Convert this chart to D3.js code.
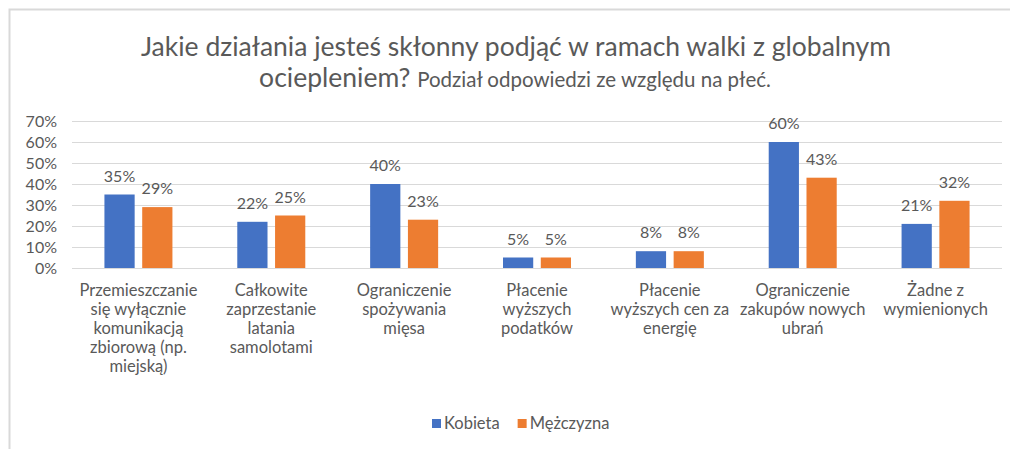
<!DOCTYPE html>
<html>
<head>
<meta charset="utf-8">
<script src="https://cdn.jsdelivr.net/npm/d3@7"></script>
<style>
  html, body { margin: 0; padding: 0; background: #fff; }
  svg text { font-family: Lato, "Open Sans", sans-serif; fill: #595959; }
</style>
</head>
<body>
<div id="chart"></div>
<script>
const categories = [
  ["Przemieszczanie", "się wyłącznie", "komunikacją", "zbiorową (np.", "miejską)"],
  ["Całkowite", "zaprzestanie", "latania", "samolotami"],
  ["Ograniczenie", "spożywania", "mięsa"],
  ["Płacenie", "wyższych", "podatków"],
  ["Płacenie", "wyższych cen za", "energię"],
  ["Ograniczenie", "zakupów nowych", "ubrań"],
  ["Żadne z", "wymienionych"]
];
const kobieta = [0.35, 0.22, 0.40, 0.05, 0.08, 0.60, 0.21];
const mezczyzna = [0.29, 0.25, 0.23, 0.05, 0.08, 0.43, 0.32];
const seriesNames = ["Kobieta", "Mężczyzna"];
const colors = ["#4472C4", "#ED7D31"];
const yTicks = [0, 0.1, 0.2, 0.3, 0.4, 0.5, 0.6, 0.7];

const width = 1010, height = 449;
const margin = { top: 121, right: 8, bottom: 181, left: 72 };
const innerW = width - margin.left - margin.right;
const innerH = height - margin.top - margin.bottom;

const svg = d3.select("#chart").append("svg")
  .attr("width", width)
  .attr("height", height);

// frame of the chart area
svg.append("rect")
  .attr("x", 9.5).attr("y", 9.5)
  .attr("width", width + 20).attr("height", height + 20)
  .attr("fill", "none")
  .attr("stroke", "#d9d9d9")
  .attr("stroke-width", 2);

// title
const title = svg.append("text")
  .attr("text-anchor", "middle")
  .style("font-size", "26.5px");
title.append("tspan")
  .attr("x", 516).attr("y", 56)
  .text("Jakie działania jesteś skłonny podjąć w ramach walki z globalnym");
const t2 = title.append("tspan")
  .attr("x", 515).attr("y", 87);
t2.append("tspan").text("ociepleniem? ");
t2.append("tspan").style("font-size", "20.5px").text("Podział odpowiedzi ze względu na  płeć.");

const g = svg.append("g")
  .attr("transform", "translate(" + margin.left + "," + margin.top + ")");

const x = d3.scaleBand()
  .domain(d3.range(categories.length))
  .range([0, innerW]);

const x1 = d3.scaleBand()
  .domain([0, 1])
  .range([0, 68])
  .paddingInner(0.2);

const y = d3.scaleLinear().domain([0, 0.7]).range([innerH, 0]);

// gridlines
g.selectAll("line.grid")
  .data(yTicks)
  .enter().append("line")
  .attr("class", "grid")
  .attr("x1", 0).attr("x2", innerW)
  .attr("y1", d => Math.round(y(d)) + 0.5)
  .attr("y2", d => Math.round(y(d)) + 0.5)
  .attr("stroke", "#d9d9d9")
  .attr("stroke-width", 1);

// y axis labels
const yAxis = d3.axisLeft(y)
  .tickValues(yTicks)
  .tickFormat(d3.format(".0%"))
  .tickSize(0)
  .tickPadding(15);

g.append("g")
  .call(yAxis)
  .call(s => s.select(".domain").remove())
  .selectAll("text")
  .style("font-family", "Lato, sans-serif")
  .style("font-size", "16px")
  .style("fill", "#595959");

const seriesData = [kobieta, mezczyzna];

seriesData.forEach((vals, si) => {
  const grp = g.append("g");
  grp.selectAll("rect")
    .data(vals)
    .enter().append("rect")
    .attr("x", (d, i) => x(i) + x.bandwidth() / 2 - 34 + x1(si))
    .attr("y", d => y(d))
    .attr("width", x1.bandwidth())
    .attr("height", d => innerH - y(d))
    .attr("fill", colors[si]);

  grp.selectAll("text")
    .data(vals)
    .enter().append("text")
    .attr("x", (d, i) => x(i) + x.bandwidth() / 2 - 34 + x1(si) + x1.bandwidth() / 2)
    .attr("y", d => y(d) - 13)
    .attr("text-anchor", "middle")
    .style("font-size", "16px")
    .text(d => d3.format(".0%")(d));
});

// category labels
const catG = g.append("g")
  .attr("transform", "translate(0," + innerH + ")");
categories.forEach((lines, i) => {
  const t = catG.append("text")
    .attr("text-anchor", "middle")
    .style("font-size", "16.5px");
  lines.forEach((ln, k) => {
    t.append("tspan")
      .attr("x", x(i) + x.bandwidth() / 2)
      .attr("y", 28 + k * 19)
      .text(ln);
  });
});

// legend
const legend = svg.append("g")
  .attr("transform", "translate(432,419)");
let lx = 0;
seriesNames.forEach((name, i) => {
  const item = legend.append("g").attr("transform", "translate(" + lx + ",0)");
  item.append("rect")
    .attr("width", 9).attr("height", 9)
    .attr("fill", colors[i]);
  const txt = item.append("text")
    .attr("x", 12).attr("y", 10)
    .style("font-size", "16.5px")
    .text(name);
  lx += 12 + txt.node().getComputedTextLength() + 18;
});
</script>
</body>
</html>
